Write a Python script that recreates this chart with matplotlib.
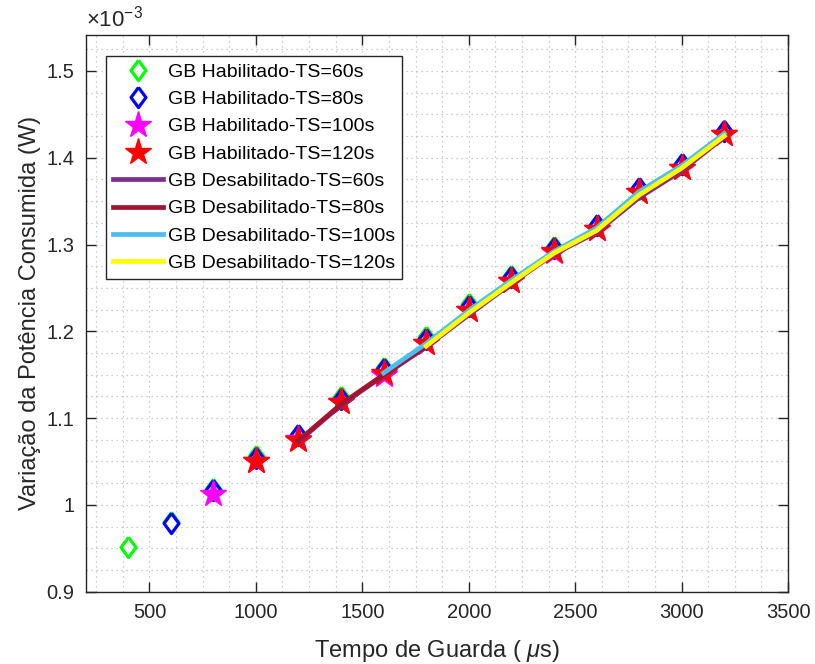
import numpy as np
import matplotlib.pyplot as plt
from matplotlib.ticker import MultipleLocator, FuncFormatter

plt.rcParams["font.family"] = ["Liberation Sans", "DejaVu Sans"]
plt.rcParams["mathtext.fontset"] = "custom"
plt.rcParams["mathtext.rm"] = "Liberation Sans"
plt.rcParams["mathtext.it"] = "Liberation Sans:italic"

# guard time (us) and consumed-power variation (x 1e-3 W)
gt_60 = [400, 600, 800, 1000, 1200, 1400, 1600, 1800, 2000, 2200, 2400, 2600, 2800, 3000, 3200]
gt_80 = gt_60[1:]
gt_100 = gt_60[2:]
gt_120 = gt_60[3:]

hab_60 = [0.951, 0.980, 1.018, 1.056, 1.081, 1.124, 1.158, 1.193, 1.231, 1.264, 1.297, 1.323, 1.364, 1.393, 1.431]
hab_80 = [0.979, 1.017, 1.054, 1.080, 1.122, 1.157, 1.191, 1.229, 1.263, 1.296, 1.323, 1.365, 1.393, 1.431]
hab_100 = [1.013, 1.051, 1.076, 1.118, 1.150, 1.186, 1.224, 1.258, 1.291, 1.318, 1.360, 1.388, 1.427]
hab_120 = [1.050, 1.075, 1.118, 1.152, 1.187, 1.225, 1.258, 1.292, 1.318, 1.360, 1.388, 1.427]

gt_des_60 = [1200, 1400, 1600, 1800, 2000, 2200, 2400, 2600, 2800, 3000, 3200]
gt_des_80 = gt_des_60
gt_des_100 = gt_des_60[2:]
gt_des_120 = gt_des_60[3:]

des_60 = [1.073, 1.115, 1.149, 1.182, 1.219, 1.255, 1.289, 1.314, 1.354, 1.385, 1.424]
des_80 = [1.074, 1.116, 1.150, 1.183, 1.221, 1.256, 1.290, 1.316, 1.357, 1.387, 1.424]
des_100 = [1.152, 1.186, 1.224, 1.259, 1.292, 1.319, 1.361, 1.391, 1.428]
des_120 = [1.183, 1.221, 1.256, 1.290, 1.316, 1.357, 1.388, 1.425]

diamond = [(0, 1), (0.74, 0), (0, -1), (-0.74, 0), (0, 1)]

fig = plt.figure(figsize=(8.15, 6.64), dpi=100)
ax = fig.add_axes([0.105, 0.109, 0.862, 0.839])

mk = dict(linestyle="none")
ax.plot(gt_60, hab_60, marker=diamond, ms=14.5, mfc="white", mec=(0, 1, 0), mew=2.3,
        label="GB Habilitado-TS=60s", **mk)
ax.plot(gt_80, hab_80, marker=diamond, ms=14.5, mfc="white", mec=(0, 0, 1), mew=2.3,
        label="GB Habilitado-TS=80s", **mk)
ax.plot(gt_100, hab_100, marker="*", ms=20, mfc=(1, 0, 1), mec=(1, 0, 1), mew=1,
        label="GB Habilitado-TS=100s", **mk)
ax.plot(gt_120, hab_120, marker="*", ms=20, mfc=(1, 0, 0), mec=(1, 0, 0), mew=1,
        label="GB Habilitado-TS=120s", **mk)

lw = 3.4
ax.plot(gt_des_60, des_60, color="#7E2F8E", lw=lw, label="GB Desabilitado-TS=60s")
ax.plot(gt_des_80, des_80, color="#A2142F", lw=lw, label="GB Desabilitado-TS=80s")
ax.plot(gt_des_100, des_100, color="#4DBEEE", lw=lw, label="GB Desabilitado-TS=100s")
ax.plot(gt_des_120, des_120, color="#FFFF00", lw=lw, label="GB Desabilitado-TS=120s")

ax.set_xlim(200, 3500)
ax.set_ylim(0.9, 1.542)
ax.xaxis.set_major_locator(MultipleLocator(500))
ax.xaxis.set_minor_locator(MultipleLocator(125))
ax.yaxis.set_major_locator(MultipleLocator(0.1))
ax.yaxis.set_minor_locator(MultipleLocator(0.025))
ax.yaxis.set_major_formatter(FuncFormatter(lambda v, _: f"{v:g}"))

dark = "#262626"
ax.grid(which="both", linestyle=(0, (1, 3)), color="#bdbdbd", linewidth=0.9)
ax.set_axisbelow(True)
ax.tick_params(which="major", direction="in", length=7, width=1, top=True, right=True,
               colors=dark, labelsize=14.5, pad=8)
ax.tick_params(which="minor", length=0, top=True, right=True)
for s in ax.spines.values():
    s.set_color(dark)
    s.set_linewidth(1)

ax.set_xlabel("Tempo de Guarda ( $\\mu$s)", fontsize=17, color=dark, labelpad=12)
ax.set_ylabel("Variação da Potência Consumida (W)", fontsize=17, color=dark, labelpad=4)
ax.text(0.0, 1.006, "$\\times$10$^{-3}$", transform=ax.transAxes, fontsize=16,
        color=dark, ha="left", va="bottom")

leg = ax.legend(loc="upper left", bbox_to_anchor=(0.029, 0.961), borderaxespad=0,
                fontsize=14, handlelength=2.6, handletextpad=0.25, labelspacing=0.5,
                borderpad=0.35, fancybox=False, framealpha=1, edgecolor=dark)
leg.get_frame().set_linewidth(1)

fig.savefig("out.png", dpi=100)
